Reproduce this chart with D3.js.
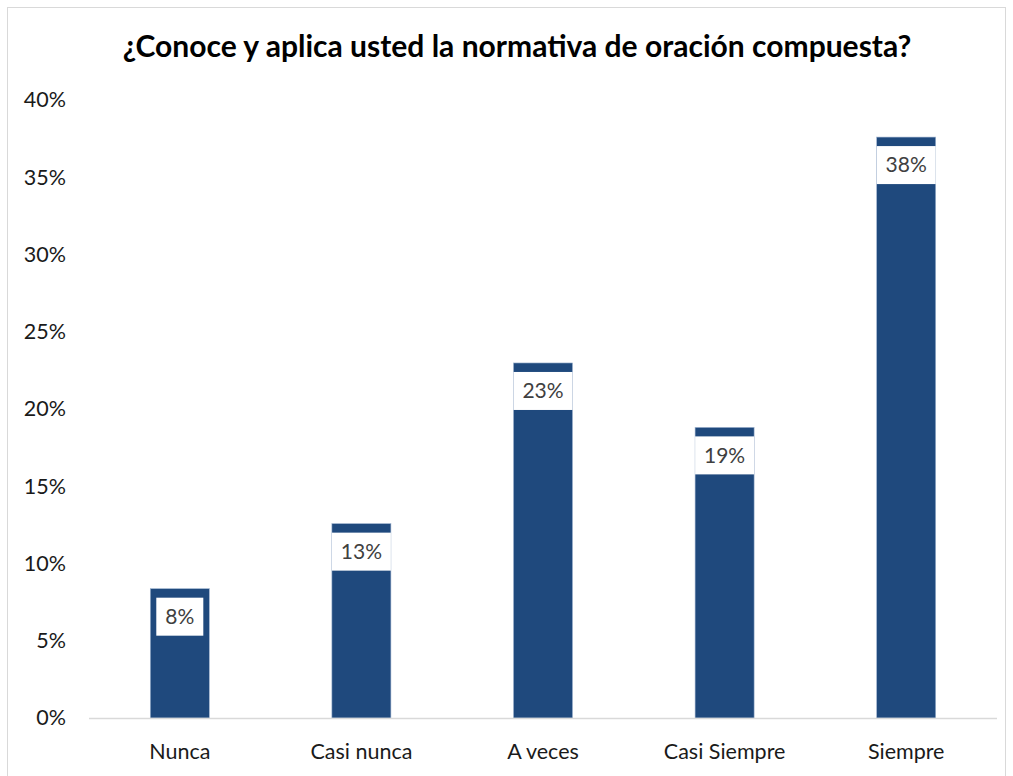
<!DOCTYPE html>
<html>
<head>
<meta charset="utf-8">
<script src="https://cdn.jsdelivr.net/npm/d3@7"></script>
<style>
  body { margin: 0; background: #fff; }
  text { font-family: Lato, "Open Sans", sans-serif; }
</style>
</head>
<body>
<div id="chart"></div>
<script>
const categories = ["Nunca", "Casi nunca", "A veces", "Casi Siempre", "Siempre"]
const values = [0.0837, 0.1258, 0.2298, 0.1881, 0.376]
const labels = ["8%", "13%", "23%", "19%", "38%"]
const yTicks = [0, 0.05, 0.10, 0.15, 0.20, 0.25, 0.30, 0.35, 0.40]
const title = "¿Conoce y aplica usted la normativa de oración compuesta?"

const W = 1013, H = 776
const svg = d3.select("#chart").append("svg")
    .attr("width", W)
    .attr("height", H)

// outer chart border
svg.append("rect")
    .attr("x", 7.5).attr("y", 7.5)
    .attr("width", 998).attr("height", H)
    .attr("fill", "none")
    .attr("stroke", "#d9d9d9")

const x = d3.scaleBand().domain(categories).range([89, 997])
    .paddingInner(0.675).paddingOuter(0.3375)
const y = d3.scaleLinear().domain([0, 0.40]).range([718, 100])

// title, scaled to the reference width
const t = svg.append("text")
    .attr("x", 517).attr("y", 57)
    .attr("text-anchor", "middle")
    .attr("font-weight", "bold")
    .attr("font-size", 24)
    .attr("fill", "#000")
    .text(title)
const tw = t.node().getComputedTextLength()
t.attr("font-size", 24 * 789 / tw)

// y axis labels
const yAxis = svg.append("g")
    .attr("transform", "translate(66,0)")
    .call(d3.axisLeft(y).tickValues(yTicks).tickFormat(d3.format(".0%")).tickSize(0).tickPadding(0))
yAxis.select(".domain").remove()
yAxis.selectAll("text")
    .attr("font-size", 21.5)
    .attr("fill", "#1a1a1a")
    .style("font-family", "Lato, 'Open Sans', sans-serif")

// bars
svg.selectAll("rect.bar").data(values)
    .enter()
    .append("rect")
    .attr("class", "bar")
    .attr("x", (d, i) => x(categories[i]))
    .attr("y", d => y(d))
    .attr("width", x.bandwidth())
    .attr("height", d => y(0) - y(d))
    .attr("fill", "#1f497d")
    .attr("stroke", "#9fb4cf")
    .attr("stroke-width", 0.6)

// baseline
svg.append("line")
    .attr("x1", 89).attr("x2", 997)
    .attr("y1", 718.5).attr("y2", 718.5)
    .attr("stroke", "#d9d9d9")
    .attr("stroke-width", 1.5)

// x axis labels
const xAxis = svg.append("g")
    .attr("transform", "translate(0,751)")
    .call(d3.axisBottom(x).tickSize(0).tickPadding(0))
xAxis.select(".domain").remove()
xAxis.selectAll("text")
    .attr("font-size", 21.5)
    .attr("fill", "#1a1a1a")
    .attr("dy", "0.35em")
    .style("font-family", "Lato, 'Open Sans', sans-serif")

// data labels in white boxes
const lab = svg.selectAll("g.lab").data(values)
    .enter()
    .append("g")
    .attr("class", "lab")
    .attr("transform", (d, i) => `translate(${x(categories[i]) + x.bandwidth() / 2},${y(d) + 9})`)
const boxes = lab.append("rect").attr("fill", "#fff")
const txt = lab.append("text")
    .attr("text-anchor", "middle")
    .attr("y", 19)
    .attr("dy", "0.35em")
    .attr("font-size", 21)
    .attr("fill", "#404040")
    .text((d, i) => labels[i])
txt.each(function (d, i) {
    const w = Math.min(this.getComputedTextLength() + 18, x.bandwidth())
    d3.select(boxes.nodes()[i])
        .attr("x", -w / 2).attr("y", 0)
        .attr("width", w).attr("height", 38)
})
</script>
</body>
</html>
